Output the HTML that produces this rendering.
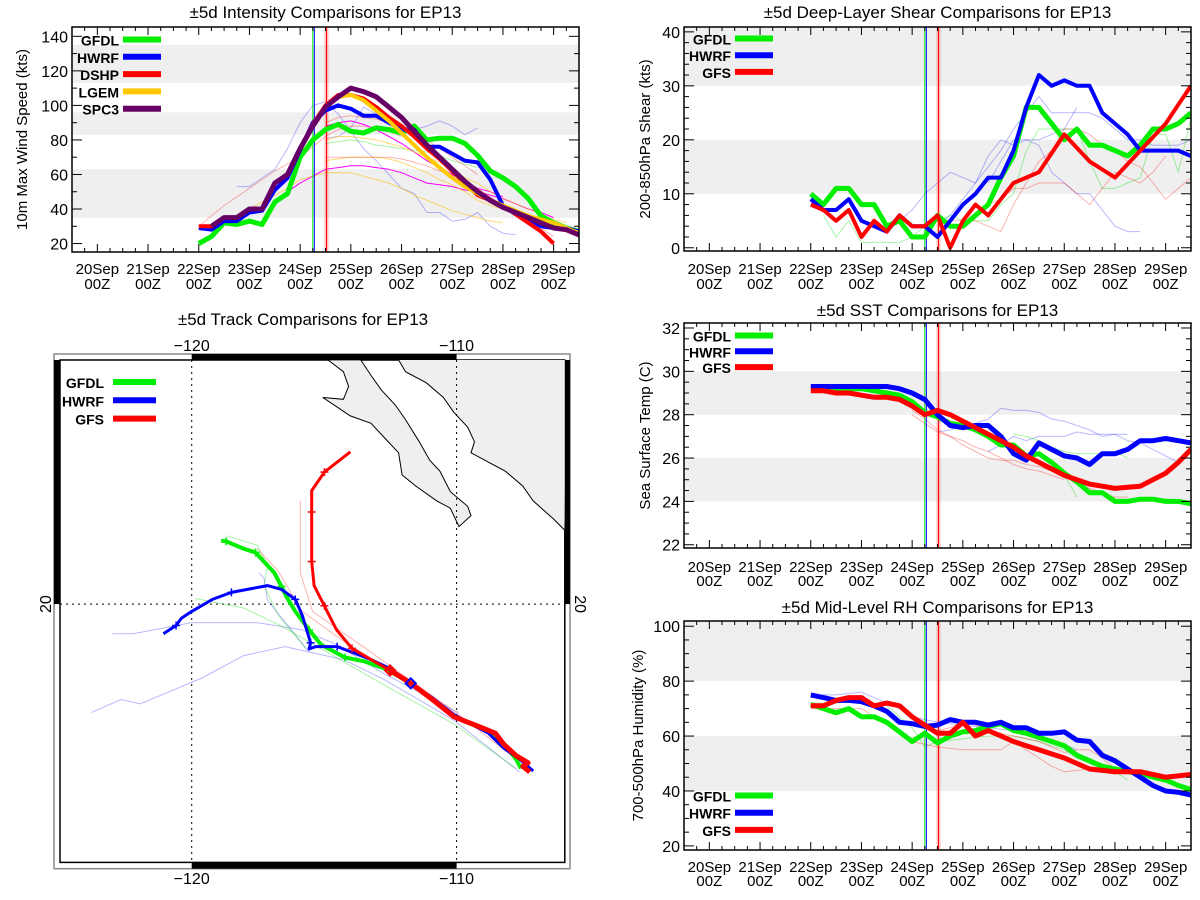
<!DOCTYPE html>
<html><head><meta charset="utf-8">
<style>
html,body{margin:0;padding:0;background:#fff;}
svg{display:block;font-family:"Liberation Sans",sans-serif;}
</style></head>
<body>
<svg id="chart" width="1200" height="900" viewBox="0 0 1200 900" xmlns="http://www.w3.org/2000/svg"></svg>
<script>
// ---------- shared categories ----------
const dayLabels = ['20Sep','21Sep','22Sep','23Sep','24Sep','25Sep','26Sep','27Sep','28Sep','29Sep'];
const vlineDays = [4.25, 4.28, 4.52];
// ---------- intensity (kts), 6-hourly ----------
const intStart = {GFDL:2, HWRF:2, DSHP:2, LGEM:4.75, SPC3:2.25};
const intGFDL = [20,24,32,31,33,31,44,49,70,80,86,89,85,84,87,86,84,88,80,81,81,78,71,62,58,53,46,36,32,29,27];
const intHWRF = [29,28,33,33,38,39,51,58,74,90,97,100,98,94,94,90,86,86,76,76,72,68,67,57,42,37,34,30,29,29,27];
const intDSHP = [30,30,35,35,40,40,55,60,75,89,100,106,106,104,99,93,88,82,75,69,62,55,48,45,42,37,32,27,20];
const intLGEM = [105,106,103,97,91,84,77,70,64,58,53,49,45,42,39,36,34,32,29,26];
const intSPC3 = [30,35,35,40,40,55,60,75,88,99,105,110,108,105,99,93,85,77,70,63,56,50,45,41,38,35,32,29,28,25];
const intOld1 = [53,53,58,63,75,90,100,102,95,85,75,68,60,52,49,38,38,33,34,38,30,26,25];
const intOld2 = [81,82,87,99,95,90,86,86,88,91,88,83,87];
const intOld3 = [30,36,42,47,52,57,62,66,70,76,82,86,88,88,87,85,82];
const intOld4 = [45,50,55,59,63,64,65,65,64,63,61,58,55,54,53,51,50,48,46,43,40,38,35];
const intOld5 = [88,90,91,89,86,82,78,73,68,64,60,56,52,50,47];
const intOld6 = [40,44,48,52,57,59,61,61,61,59,57,55,52,48,45,42,39,37,35,33,32];
const intOld7 = [68,69,70,70,70,69,67,64,61,57,54,50,45,42,40];
const intOld8 = [70,70,70,70,70,70,69,67,65,62,60,56,52,47,42,37,33,29,24];
const intOld9 = [78,79,80,79,77,76,75,74,73,71,68,66,64];
const intOld10 = [90,93,94,93,92,90,88,85,80,75,70,65,60];
const intOld11 = [80,82,82,81,80,78,76,73,70,67,63,58,55,50,46,43,40,37,34,32];
const intTicks = [20,40,60,80,100,120,140];
// ---------- shear (kts) ----------
const shGFDL = [10,8,11,11,8,8,4,5,2,2,6,4,4,6,8,13,17,26,26,23,20,22,19,19,18,17,19,22,22,23,25];
const shHWRF = [9,7,7,9,5,4,3,6,4,4,2,5,8,10,13,13,18,26,32,30,31,30,30,25,23,21,18,18,18,18,17];
const shGFS = [8,7,5,7,2,5,3,6,4,4,6,0,5,8,6,9,12,13,14,17.5,21,18.5,16,14.5,13,15.5,18,20.5,23,26.5,30];
const shOld1 = [3,5,7,10,12,14,13,12,17,20,19,20,19,14,12,10,10,7,4,3,3];
const shOld2 = [4,6,9,12,15,18,22,25,28,25,25,25,25,24,22,20,20,19,19,19,20];
const shOld3 = [12,16,20,20,20,21,22,26];
const shOld4 = [6,2,5,1,1,1,1,2,4,5,6,5,5,5,8,10,18,22,22,22,22,16,11,11,12,13,21,21,14,24];
const shOld5 = [5,5,5,5,4,3,8,12,16,18,22,22,21,19,18,16,15,12,9,11,13];
const shOld6 = [8,9,11,11,12,12,12,10,8,11,14,13,12,14,17];
const shTicks = [0,10,20,30,40];
// ---------- SST (C) ----------
const sstGFDL = [29.2,29.2,29.2,29.2,29.2,29.1,29.0,28.9,28.6,28.1,27.9,27.6,27.5,27.3,27.0,26.6,26.6,26.1,26.2,25.8,25.3,24.9,24.4,24.4,24.0,24.0,24.1,24.1,24.0,24.0,23.9];
const sstHWRF = [29.3,29.3,29.3,29.3,29.3,29.3,29.3,29.2,29.0,28.7,28.0,27.5,27.4,27.5,27.5,27.0,26.2,25.9,26.7,26.4,26.1,26.0,25.7,26.2,26.2,26.4,26.8,26.8,26.9,26.8,26.7];
const sstGFS = [29.1,29.1,29.0,29.0,28.9,28.8,28.8,28.7,28.4,28.0,28.2,28.0,27.7,27.4,27.1,26.8,26.5,26.1,25.8,25.5,25.2,25.0,24.8,24.7,24.6,24.65,24.7,25.0,25.3,25.8,26.4];
const sstOld1 = [27.2,27.3,27.5,27.6,27.8,28.3,28.2,28.2,28.1,27.8,27.7,27.5,27.3,27.0,27.1,26.8,26.7,26.4,26.1,25.8];
const sstOld2 = [26.3,26.6,27.0,26.8,27.0,27.0,27.0,27.2,27.1,27.1,27.1,27.1];
const sstOld3 = [27.1,27.0,26.8,26.5,26.3,26.2,26.2,26.2,26.3,26.0];
const sstOld4 = [28.2,27.8,27.3,27.0,26.6,26.3,26.0,25.9,25.9,25.7,25.6,25.4,25.2,24.9,24.6,24.4,24.2,24.2];
const sstOld5 = [28.0,27.6,27.2,27.0,26.8,26.5,26.3,26.0,25.7,25.5,25.4,25.2,25.0];
const sstOld6 = [25.2,24.2];
const sstTicks = [22,24,26,28,30,32];
// ---------- RH (%) ----------
const rhGFDL = [71.5,70,68.5,70,67,67,65,61.5,58,61,57.5,60,61.5,62,63.5,64.5,62,61,59.5,58,56.5,53,51,49,48,47,46.5,45,44,42,40.5];
const rhHWRF = [75,74,73,73,72.5,71,69,65,64.5,63.5,64,66,65,65,64,65,63,63,61,61,61.5,58.5,58,53,51,48,45,42,40,39.5,38.5];
const rhGFS = [71,71,73,74,74,71,72,71,67,64,61,61,65,60,62,60,58,56.5,55,53.5,52,50,48,47.5,47,47,47,46,45,45.5,46];
const rhOld1 = [75,75,75,75.5,76,74,72,70,67,66,65,64.5,64,63.5,63,62.5,62,61,60,58.5,57,55];
const rhOld2 = [72,72,72,72.5,73,72,71,67,63,56,58,58.5,59,59.5,60,60,60,59,58,56.5,55,52,50,48,47,44];
const rhOld3 = [70,70,70,70,70,67,64,61,58,57,56,55.5,55,55,55,55,58,55,52,49,47,47.5,48,47,46];
const rhOld4 = [62,63,65,64,62,61,60,59,58,56,54,55,55,52,48];
const rhTicks = [20,40,60,80,100];
// ---------- tracks (lon, lat) ----------
const gfsLon = [-107.24,-107.5,-107.3,-107.76,-108.22,-108.54,-109.06,-110.1,-110.89,-111.73,-112.51,-113.23,-113.95,-114.53,-114.99,-115.38,-115.47,-115.47,-115.47,-114.99,-114.01];
const gfsLat = [14.28,14.47,14.59,14.84,15.22,15.6,15.79,16.16,16.73,17.3,17.74,18.11,18.49,19.12,19.94,20.63,21.45,23.14,23.87,24.5,25.19];
const gfsMarks = [10,12,14,16,17,19];
const hwrfLon = [-107.11,-107.63,-108.22,-108.8,-110.1,-110.89,-111.73,-112.51,-113.23,-113.95,-114.51,-115.31,-115.57,-115.51,-115.83,-116.09,-116.61,-117.14,-118.5,-119.22,-120.0,-120.39,-120.59,-121.07];
const hwrfLat = [14.31,14.72,15.09,15.6,16.23,16.79,17.3,17.8,18.11,18.36,18.55,18.55,18.47,18.68,19.62,20.16,20.5,20.63,20.4,20.16,19.75,19.52,19.27,18.99];
const hwrfMarks = [10,13,15,18,22];
const gfdlLon = [-107.57,-107.76,-108.22,-108.8,-110.1,-111.73,-112.71,-113.49,-114.21,-115.12,-115.57,-116.09,-116.42,-116.61,-116.88,-117.59,-118.05,-118.7,-118.89];
const gfdlLat = [14.4,14.72,15.22,15.66,16.16,17.3,17.8,18.05,18.18,18.62,19.12,19.75,20.25,20.6,21.07,21.76,21.89,22.14,22.16];
const gfdlMarks = [8,10,13,15,17];
const oldTrkBlueA_lon = [-107.63,-110.1,-112.71,-114.27,-116.48,-118.05,-119.61,-121.95,-122.67,-123.78];
const oldTrkBlueA_lat = [14.28,16.04,17.42,18.11,18.55,18.24,17.48,16.6,16.75,16.31];
const oldTrkBlueB_lon = [-109.91,-112.71,-114.53,-115.83,-117.53,-120,-122.21,-123];
const oldTrkBlueB_lat = [16.29,17.61,18.62,19.12,19.37,19.37,18.99,18.99];
const oldTrkBlueC_lon = [-115.57,-116.35,-117.14,-117.27,-117.46];
const oldTrkBlueC_lat = [18.36,19.25,20.13,20.88,21.07];
const oldTrkGreenA_lon = [-107.76,-110.1,-112.71,-114.66,-116.61,-118.05,-118.44,-119.87];
const oldTrkGreenA_lat = [14.4,15.91,17.23,18.24,19.25,19.87,19.94,20.19];
const oldTrkGreenB_lon = [-115.7,-116.74,-117.27,-117.14,-117.53,-118.7];
const oldTrkGreenB_lat = [18.49,19.62,20.63,21.32,22.01,22.33];
const oldTrkRedA_lon = [-107.76,-110.1,-113.23,-115.44,-115.9,-115.9];
const oldTrkRedA_lat = [14.72,16.35,18.36,19.75,21.07,23.52];
const oldTrkRedB_lon = [-111.41,-114.27,-115.83,-116.74,-117.53];
const oldTrkRedB_lat = [17.11,18.74,19.75,21.13,21.89];

const NS='http://www.w3.org/2000/svg';
const svg=document.getElementById('chart');
function mk(tag,attrs,parent){const e=document.createElementNS(NS,tag);for(const k in attrs)e.setAttribute(k,attrs[k]);(parent||svg).appendChild(e);return e;}
function txt(s,attrs,parent){const e=mk('text',attrs,parent);e.textContent=s;return e;}

const GREEN='#00ee00',BLUE='#0000ff',RED='#ff0000',ORANGE='#ffc800',PURPLE='#660066';
const LB='rgba(0,0,255,0.28)',LG='rgba(0,220,0,0.35)',LR='rgba(255,0,0,0.3)',LO='rgba(255,190,0,0.55)',MAG='#ff00ff';

let clipN=0;
function panel(cfg){
  const g=mk('g',{});
  
  
  const L=cfg.L,R=cfg.R,T=cfg.T,B=cfg.B;
  const xs=d=>L+(d+0.5)/10*(R-L);
  const ys=v=>B-(v-cfg.ymin)/(cfg.ymax-cfg.ymin)*(B-T);
  const cid='clip'+(clipN++);
  const cp=mk('clipPath',{id:cid},g);mk('rect',{x:L,y:T,width:R-L,height:B-T},cp);
  // bands
  cfg.bands.forEach(b=>{
    const y1=Math.max(T,ys(b[1])),y2=Math.min(B,ys(b[0]));
    const r=mk('rect',{x:L,y:y1,width:R-L,height:y2-y1,fill:'#efefef'},g);
    
    
  });
  const sg=mk('g',{'clip-path':'url(#'+cid+')'},g);
  function line(vals,start,color,w,nm){
    const pts=vals.map((v,i)=>xs(start+i*0.25).toFixed(1)+','+ys(v).toFixed(1)).join(' ');
    const p=mk('polyline',{points:pts,fill:'none',stroke:color,'stroke-width':w,'stroke-linejoin':'round'},sg);
    
    
  }
  cfg.faint.forEach(f=>line(f[0],f[1],f[2],1,'previous-forecast-line'));
  // verticals
  const vcol=[GREEN,BLUE,RED];
  vlineDays.forEach((d,i)=>{
    if(i==2) mk('line',{x1:xs(d),x2:xs(d),y1:T,y2:B,stroke:'rgba(255,0,0,0.25)','stroke-width':4},sg);
    const l=mk('line',{x1:xs(d),x2:xs(d),y1:T,y2:B,stroke:vcol[i],'stroke-width':1},sg);
    
    
  });
  cfg.series.forEach(s=>line(s.vals,s.start,s.color,s.w,'series-'+s.label.toLowerCase()));
  // frame
  mk('rect',{x:L,y:T,width:R-L,height:B-T,fill:'none',stroke:'#000','stroke-width':1.5},g);
  // x ticks
  for(let d=-0.25;d<=9.5;d+=0.25){
    const major=Math.abs(d-Math.round(d))<1e-6;
    const len=major?8:4,x=xs(d);
    mk('line',{x1:x,x2:x,y1:B,y2:B-len,stroke:'#000','stroke-width':1},g);
    mk('line',{x1:x,x2:x,y1:T,y2:T+len,stroke:'#000','stroke-width':1},g);
  }
  dayLabels.forEach((lab,i)=>{
    const t=txt(lab,{x:xs(i),y:cfg.lab1,'text-anchor':'middle','font-size':15},g);
    
    
    txt('00Z',{x:xs(i),y:cfg.lab2,'text-anchor':'middle','font-size':15},g);
  });
  // y ticks
  for(let v=cfg.ticks[0];v<=cfg.ymax+1e-6;v+=cfg.minor){
    const major=cfg.ticks.some(t=>Math.abs(t-v)<1e-6);
    const len=major?10:5,y=ys(v);
    if(v<cfg.ymin)continue;
    mk('line',{x1:L,x2:L+len,y1:y,y2:y,stroke:'#000','stroke-width':1},g);
    mk('line',{x1:R,x2:R-len,y1:y,y2:y,stroke:'#000','stroke-width':1},g);
  }
  cfg.ticks.forEach(v=>{
    const t=txt(String(v),{x:L-4,y:ys(v)+6,'text-anchor':'end','font-size':16},g);
    
    
  });
  const tt=txt(cfg.title,{x:(L+R)/2,y:cfg.titleY,'text-anchor':'middle','font-size':17},g);
  
  
  const yl=txt(cfg.ylabel,{x:0,y:0,'text-anchor':'middle','font-size':15,transform:`translate(${cfg.ylx},${(T+B)/2}) rotate(-90)`},g);
  
  
  // legend
  cfg.series.forEach((s,i)=>{
    const y=cfg.legY+i*cfg.legDy;
    const lt=txt(s.label,{x:cfg.legTx,y:y+6,'text-anchor':'end','font-size':14,'font-weight':'bold'},g);
    
    
    mk('line',{x1:cfg.legX1,x2:cfg.legX2,y1:y,y2:y,stroke:s.color,'stroke-width':6},g);
  });
}

panel({name:'intensity-panel',L:72,R:579,T:27,B:252,ymin:15.1,ymax:145.4,ticks:intTicks,minor:10,
  bands:[[35,63],[83,96],[113,135]],title:'±5d Intensity Comparisons for EP13',titleY:18,
  ylabel:'10m Max Wind Speed (kts)',ylx:27,lab1:274,lab2:289,
  legY:39.5,legDy:17.3,legTx:119,legX1:123,legX2:161,
  faint:[[intOld1,2.75,LB],[intOld2,4.5,LB],[intOld3,2,LR],[intOld4,3.5,MAG],[intOld5,4.5,MAG],[intOld6,3,LO],[intOld7,4.5,LO],[intOld8,4.5,LR],[intOld9,4.5,LG],[intOld10,4.5,LR],[intOld11,4.5,LO]],
  series:[{label:'GFDL',vals:intGFDL,start:intStart.GFDL,color:GREEN,w:5},
    {label:'HWRF',vals:intHWRF,start:intStart.HWRF,color:BLUE,w:4},
    {label:'DSHP',vals:intDSHP,start:intStart.DSHP,color:RED,w:4},
    {label:'LGEM',vals:intLGEM,start:intStart.LGEM,color:ORANGE,w:4},
    {label:'SPC3',vals:intSPC3,start:intStart.SPC3,color:PURPLE,w:5}]});

panel({name:'shear-panel',L:684,R:1191,T:27,B:251,ymin:-0.6,ymax:40.9,ticks:shTicks,minor:2,
  bands:[[10,20],[30,45]],title:'±5d Deep-Layer Shear Comparisons for EP13',titleY:18,
  ylabel:'200-850hPa Shear (kts)',ylx:650,lab1:274,lab2:289,
  legY:38.5,legDy:16.7,legTx:731,legX1:735,legX2:773,
  faint:[[shOld1,3.5,LB],[shOld2,4.5,LB],[shOld3,5.5,LB],[shOld4,2.25,LG],[shOld5,4.5,LR],[shOld6,5.5,LR]],
  series:[{label:'GFDL',vals:shGFDL,start:2,color:GREEN,w:5},
    {label:'HWRF',vals:shHWRF,start:2,color:BLUE,w:4},
    {label:'GFS',vals:shGFS,start:2,color:RED,w:4}]});

panel({name:'sst-panel',L:684,R:1191,T:323,B:548,ymin:21.85,ymax:32.23,ticks:sstTicks,minor:0.5,
  bands:[[24,26],[28,30]],title:'±5d SST Comparisons for EP13',titleY:316,
  ylabel:'Sea Surface Temp (C)',ylx:650,lab1:572,lab2:586,
  legY:335.5,legDy:15.8,legTx:731,legX1:735,legX2:773,
  faint:[[sstOld1,4.5,LB],[sstOld2,5.5,LB],[sstOld3,6,LG],[sstOld4,4,LR],[sstOld5,4,LR],[sstOld6,7,LG]],
  series:[{label:'GFDL',vals:sstGFDL,start:2,color:GREEN,w:5},
    {label:'HWRF',vals:sstHWRF,start:2,color:BLUE,w:5},
    {label:'GFS',vals:sstGFS,start:2,color:RED,w:5}]});

panel({name:'rh-panel',L:684,R:1191,T:621,B:850,ymin:18.5,ymax:101.9,ticks:rhTicks,minor:5,
  bands:[[40,60],[80,105]],title:'±5d Mid-Level RH Comparisons for EP13',titleY:613,
  ylabel:'700-500hPa Humidity (%)',ylx:643,lab1:872,lab2:886,
  legY:795.5,legDy:17.2,legTx:731,legX1:735,legX2:773,
  faint:[[rhOld1,2,LB],[rhOld2,2,LG],[rhOld3,2,LR],[rhOld4,4.5,LR]],
  series:[{label:'GFDL',vals:rhGFDL,start:2,color:GREEN,w:5},
    {label:'HWRF',vals:rhHWRF,start:2,color:BLUE,w:5},
    {label:'GFS',vals:rhGFS,start:2,color:RED,w:5}]});

// ---------- track map ----------
(function(){
  const g=mk('g',{});
  
  
  const iL=60,iR=564.8,iT=360,iB=862.4,oL=54,oR=570,oT=354,oB=868.7;
  const px=lon=>191.7+(lon+120)*26.49;
  const py=lat=>604.1-(lat-20)*29.34;
  const zc=(a,b)=>[a/2.9+40,b/2.71+320];
  mk('rect',{x:oL,y:oT,width:oR-oL,height:oB-oT,fill:'none',stroke:'#888','stroke-width':1.5},g);
  mk('rect',{x:iL,y:iT,width:iR-iL,height:iB-iT,fill:'#fff',stroke:'#000','stroke-width':1.5},g);
  // black scale bars
  [[px(-120),oT,px(-110)-px(-120),iT-oT],[px(-120),iB,px(-110)-px(-120),oB-iB],[oL,iT,iL-oL,py(20)-iT],[iR,iT,oR-iR,py(20)-iT]].forEach(r=>{
    mk('rect',{x:r[0],y:r[1],width:r[2],height:r[3],fill:'#000'},g);
  });
  const cid='clipmap';const cp=mk('clipPath',{id:cid},g);mk('rect',{x:iL,y:iT,width:iR-iL,height:iB-iT},cp);
  const mg=mk('g',{'clip-path':'url(#clipmap)'},g);
  const baja=[[835,108],[880,140],[895,180],[880,215],[820,210],[860,235],[900,260],[960,280],[1000,320],[1040,360],[1050,420],[1090,450],[1150,490],[1190,510],[1215,560],[1250,530],[1240,505],[1190,465],[1160,410],[1130,380],[1100,330],[1060,270],[1030,230],[990,190],[960,150],[930,108]];
  const main=[[1040,108],[1060,140],[1120,170],[1170,210],[1200,250],[1240,290],[1260,330],[1250,360],[1290,380],[1350,410],[1400,450],[1430,490],[1490,540],[1522,570],[1530,90],[1040,90]];
  [[baja,'baja-california'],[main,'mexico-mainland']].forEach(c=>{
    const p=mk('polygon',{points:c[0].map(q=>zc(q[0],q[1]).map(v=>v.toFixed(1)).join(',')).join(' '),fill:'#efefef',stroke:'#000','stroke-width':1},mg);
    
    
  });
  // grid
  [-120,-110].forEach(lon=>mk('line',{x1:px(lon),x2:px(lon),y1:iT,y2:iB,stroke:'#000','stroke-width':1,'stroke-dasharray':'2,4'},mg));
  mk('line',{x1:iL,x2:iR,y1:py(20),y2:py(20),stroke:'#000','stroke-width':1,'stroke-dasharray':'2,4'},mg);
  function trk(lons,lats,color,w,nm){
    const p=mk('polyline',{points:lons.map((l,i)=>px(l).toFixed(1)+','+py(lats[i]).toFixed(1)).join(' '),fill:'none',stroke:color,'stroke-width':w,'stroke-linejoin':'round'},mg);
    
    
  }
  trk(oldTrkBlueA_lon,oldTrkBlueA_lat,LB,1,'previous-track');
  trk(oldTrkBlueB_lon,oldTrkBlueB_lat,LB,1,'previous-track');
  trk(oldTrkBlueC_lon,oldTrkBlueC_lat,LB,1,'previous-track');
  trk(oldTrkGreenA_lon,oldTrkGreenA_lat,LG,1,'previous-track');
  trk(oldTrkGreenB_lon,oldTrkGreenB_lat,LG,1,'previous-track');
  trk(oldTrkRedA_lon,oldTrkRedA_lat,LR,1,'previous-track');
  trk(oldTrkRedB_lon,oldTrkRedB_lat,LR,1,'previous-track');
  function marks(lons,lats,idx,color){
    idx.forEach(i=>{const x=px(lons[i]),y=py(lats[i]);
      mk('line',{x1:x-4,x2:x+4,y1:y,y2:y,stroke:color,'stroke-width':1.5},mg);
      mk('line',{x1:x,x2:x,y1:y-4,y2:y+4,stroke:color,'stroke-width':1.5},mg);});
  }
  trk(gfdlLon,gfdlLat,GREEN,4,'gfdl-track');marks(gfdlLon,gfdlLat,gfdlMarks,GREEN);
  trk(hwrfLon,hwrfLat,BLUE,3,'hwrf-track');marks(hwrfLon,hwrfLat,hwrfMarks,BLUE);
  trk(gfsLon.slice(0,11),gfsLat.slice(0,11),RED,5,'gfs-track-early');
  trk(gfsLon,gfsLat,RED,3,'gfs-track');marks(gfsLon,gfsLat,gfsMarks,RED);
  // diamonds
  [[gfsLon[10],gfsLat[10],RED],[hwrfLon[6],hwrfLat[6],BLUE]].forEach(d=>{
    const x=px(d[0]),y=py(d[1]);
    mk('polygon',{points:`${x},${y-5} ${x+5},${y} ${x},${y+5} ${x-5},${y}`,fill:'none',stroke:d[2],'stroke-width':2},mg);
  });
  // labels
  [[-120,'−120'],[-110,'−110']].forEach(a=>{
    const t1=txt(a[1],{x:px(a[0]),y:351,'text-anchor':'middle','font-size':16},g);
    
    
    txt(a[1],{x:px(a[0]),y:884,'text-anchor':'middle','font-size':16},g);
  });
  const la=txt('20',{x:0,y:0,'text-anchor':'middle','font-size':16,transform:`translate(51,${py(20)}) rotate(-90)`},g);
  
  
  txt('20',{x:0,y:0,'text-anchor':'middle','font-size':16,transform:`translate(575,${py(20)}) rotate(90)`},g);
  const tt=txt('±5d Track Comparisons for EP13',{x:303,y:325,'text-anchor':'middle','font-size':17},g);
  
  
  [['GFDL',GREEN],['HWRF',BLUE],['GFS',RED]].forEach((l,i)=>{
    const y=382+i*18.3;
    const lt=txt(l[0],{x:104,y:y+6,'text-anchor':'end','font-size':14,'font-weight':'bold'},g);
    
    
    mk('line',{x1:113,x2:156,y1:y,y2:y,stroke:l[1],'stroke-width':6},g);
  });
})();
</script>
</body></html>
